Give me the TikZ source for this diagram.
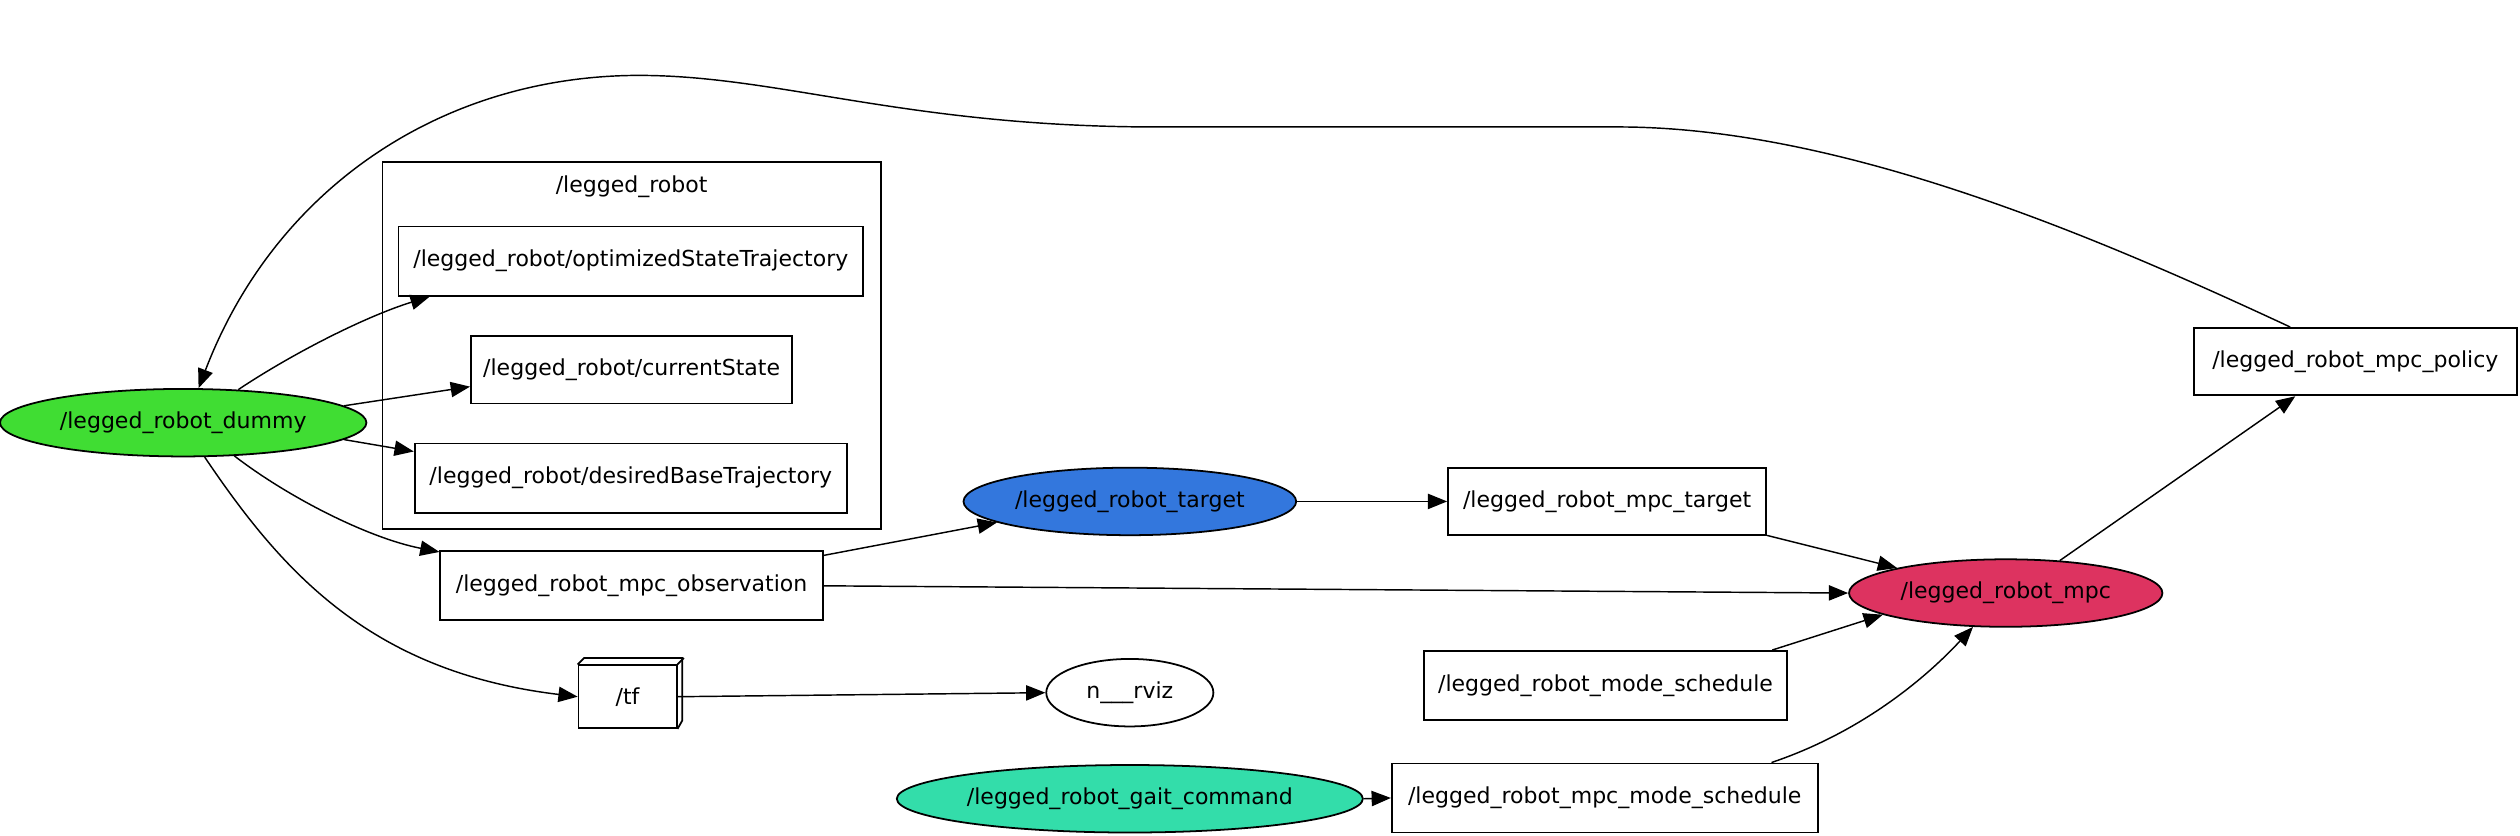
\documentclass[tikz,border=0pt]{standalone}
\usepackage{fontspec}
\setmainfont{DejaVu Sans}
\usetikzlibrary{shapes.geometric,arrows.meta}
\definecolor{cgreen}{RGB}{64,221,51}
\definecolor{cblue}{RGB}{51,119,221}
\definecolor{cred}{RGB}{221,51,96}
\definecolor{cteal}{RGB}{51,221,170}
\tikzset{
  tbox/.style={draw, rectangle, line width=1.1pt, inner sep=0pt, font=\fontsize{13.7}{16}\selectfont},
  tell/.style={draw, ellipse, line width=1.1pt, inner sep=0pt, font=\fontsize{13.7}{16}\selectfont},
  conn/.style={line width=0.9pt, -{Triangle[length=12pt,width=9.5pt]}},
}
\begin{document}
\begin{tikzpicture}[x=1pt,y=-1pt]
\fill[white] (0,0) rectangle (1568,520);
\useasboundingbox (0,0) rectangle (1568,520);
% cluster
\node[draw, line width=1.1pt, minimum width=310pt, minimum height=228pt, inner sep=0pt] (cluster) at (393,215) {};
\node[font=\fontsize{13.7}{16}\selectfont, inner sep=0pt] (clabel) at (393,116) {/legged\_robot};
% nodes
\node[tell, fill=cgreen, minimum width=228pt, minimum height=42pt] (dummy) at (114,263) {/legged\_robot\_dummy};
\node[tbox, minimum width=289pt, minimum height=43pt] (opt) at (392.5,162.5) {/legged\_robot/optimizedStateTrajectory};
\node[tbox, minimum width=200pt, minimum height=42pt] (cur) at (393,230) {/legged\_robot/currentState};
\node[tbox, minimum width=269pt, minimum height=43pt] (des) at (392.5,297.5) {/legged\_robot/desiredBaseTrajectory};
\node[tbox, minimum width=238pt, minimum height=43pt] (obs) at (393,364.5) {/legged\_robot\_mpc\_observation};
\node[tbox, minimum width=61pt, minimum height=39pt] (tf) at (390.5,433.5) {/tf};
\draw[line width=1.1pt] (tf.north west) -- ++(4,-4) -- ++(61,0) -- ++(0,39) -- (tf.south east);
\draw[line width=1.1pt] (tf.north east) -- ++(4,-4);
\node[tell, minimum width=104pt, minimum height=42pt] (rviz) at (703,431) {n\_\_\_rviz};
\node[tell, fill=cblue, minimum width=207pt, minimum height=42pt] (target) at (703,312) {/legged\_robot\_target};
\node[tbox, minimum width=198pt, minimum height=42pt] (mtarget) at (1000,312) {/legged\_robot\_mpc\_target};
\node[tbox, minimum width=226pt, minimum height=43pt] (msched) at (999,426.5) {/legged\_robot\_mode\_schedule};
\node[tell, fill=cteal, minimum width=290pt, minimum height=42pt] (gait) at (703,497) {/legged\_robot\_gait\_command};
\node[tbox, minimum width=265pt, minimum height=43pt] (mmsched) at (998.5,496.5) {/legged\_robot\_mpc\_mode\_schedule};
\node[tell, fill=cred, minimum width=195pt, minimum height=42pt] (mpc) at (1248,369) {/legged\_robot\_mpc};
\node[tbox, minimum width=201pt, minimum height=42pt] (policy) at (1465.5,225) {/legged\_robot\_mpc\_policy};
% connectors
\draw[conn] (policy.152.6) .. controls (1310,150) and (1150,80) .. (1010,79) -- (720,79)
  .. controls (560,79) and (480,45) .. (390,47)
  .. controls (270,50) and (170,120) .. (dummy.66.7);
\draw[conn] (dummy.31.3) .. controls (185,218) and (230,196) .. (opt.190.4);
\draw[conn] (dummy.6.7) -- (cur.186.8);
\draw[conn] (dummy.-6.2) -- (des.173.8);
\draw[conn] (dummy.-33.1) .. controls (180,310) and (230,335) .. (obs.170.7);
\draw[conn] (dummy.-58.1) .. controls (175,355) and (230,418) .. (tf.west);
\draw[conn] (obs.9.8) -- (target.-171.4);
\draw[conn] (obs.east) -- (mpc.west);
\draw[conn] (tf.east) -- (rviz.west);
\draw[conn] (target.east) -- (mtarget.west);
\draw[conn] (mtarget.-12.2) -- (mpc.167.5);
\draw[conn] (msched.12.6) -- (mpc.190.8);
\draw[conn] (mmsched.12) .. controls (1160,455) and (1200,420) .. (mpc.-134.2);
\draw[conn] (gait.east) -- (mmsched.west);
\draw[conn] (mpc.31.7) -- (policy.210.6);
\end{tikzpicture}
\end{document}
